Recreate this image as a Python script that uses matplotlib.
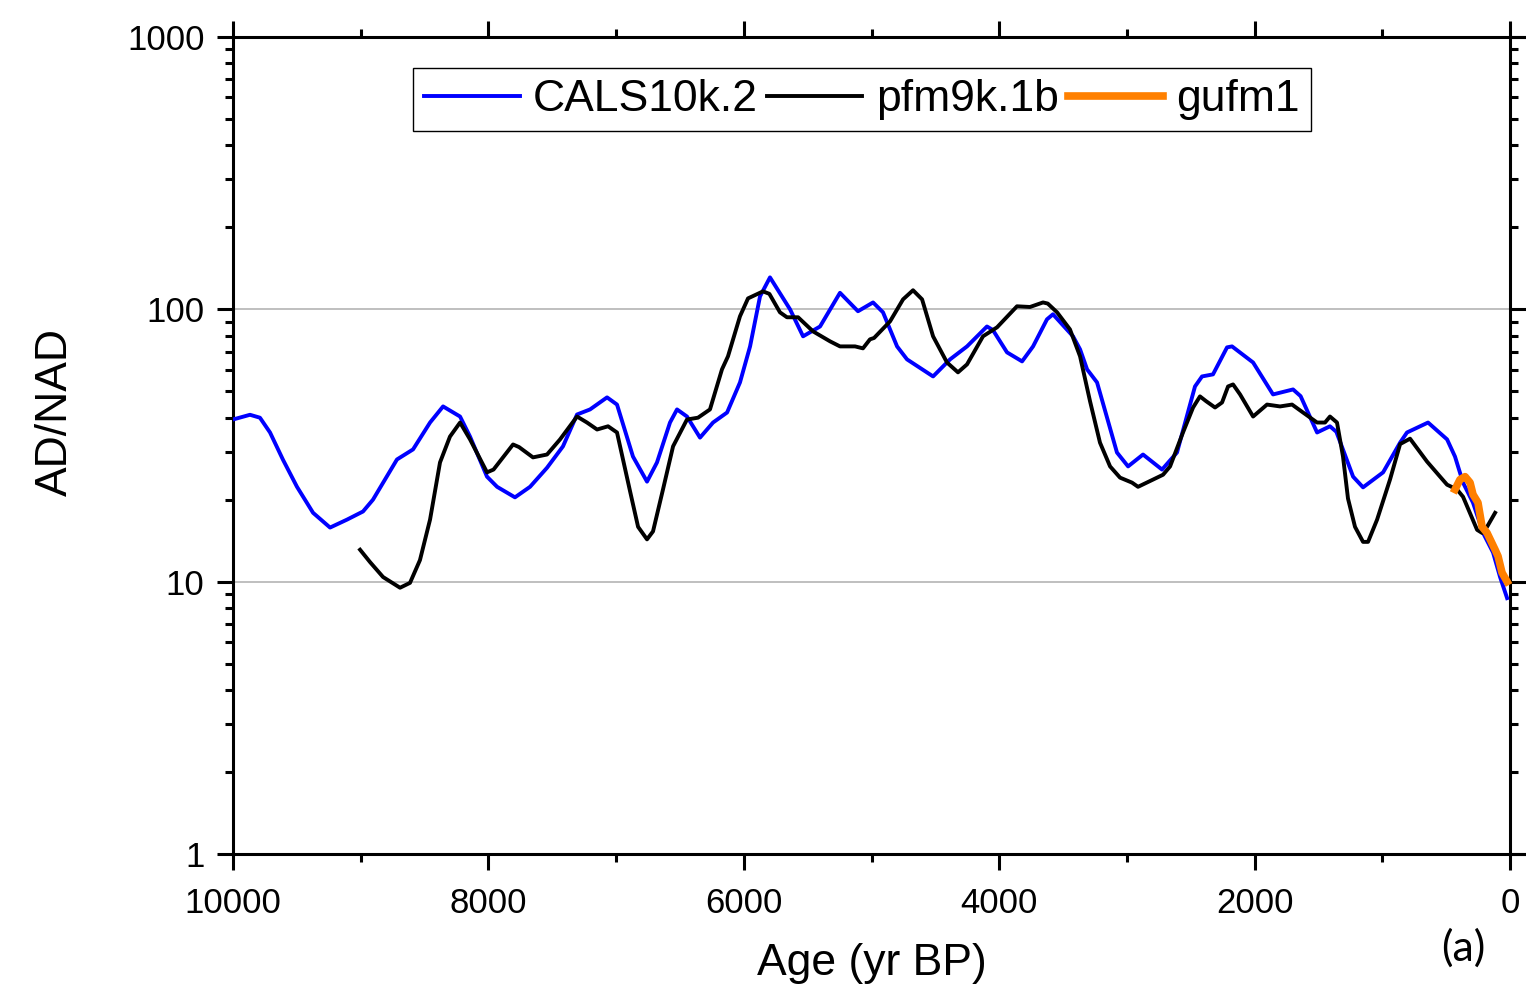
import matplotlib
matplotlib.use("Agg")
import matplotlib.pyplot as plt
from matplotlib.ticker import FixedLocator, LogLocator, NullFormatter, FixedFormatter

plt.rcParams['font.family'] = ['Liberation Sans', 'DejaVu Sans']

# CALS10k.2 (age in yr BP, AD/NAD)
cals_age = [10000, 9867, 9789, 9710, 9608, 9499, 9373, 9240, 9107, 8982, 8904, 8716,
            8590, 8457, 8355, 8222, 8144, 8011, 7932, 7792, 7674, 7541, 7416, 7306,
            7204, 7071, 6993, 6868, 6758, 6680, 6578, 6523, 6445, 6343, 6241, 6131,
            6030, 5951, 5873, 5795, 5638, 5536, 5403, 5247, 5106, 4988, 4910, 4800,
            4722, 4518, 4385, 4252, 4096, 4050, 3939, 3821, 3735, 3626, 3579, 3422,
            3367, 3312, 3234, 3078, 2991, 2874, 2725, 2608, 2467, 2412, 2326, 2216,
            2177, 2012, 1856, 1699, 1640, 1511, 1410, 1360, 1229, 1151, 994, 861,
            807, 642, 493, 431, 368, 290, 211, 133, 78, 23]
cals_val = [39.4, 41.0, 40.0, 35.3, 28.0, 22.3, 17.9, 15.8, 16.9, 18.1, 20.0, 28.1,
            30.6, 38.4, 44.0, 40.4, 34.1, 24.3, 22.3, 20.4, 22.3, 26.2, 31.4, 41.1,
            42.9, 47.5, 44.7, 28.8, 23.3, 27.4, 38.4, 42.9, 40.4, 33.8, 38.4, 41.8,
            53.9, 73.1, 111.6, 131.0, 100.0, 79.6, 86.5, 115.0, 98.4, 106.0, 97.5, 73.1,
            65.5, 56.7, 65.5, 73.1, 86.5, 84.0, 69.5, 64.4, 73.1, 91.9, 95.9, 79.6,
            71.3, 60.2, 53.9, 29.8, 26.5, 29.3, 25.8, 29.8, 52.1, 56.7, 57.7, 72.5,
            73.1, 63.8, 48.7, 50.8, 48.0, 35.3, 37.2, 35.5, 24.3, 22.2, 25.2, 32.4,
            35.3, 38.4, 33.3, 28.8, 23.1, 19.5, 15.1, 12.8, 10.4, 8.7]

# pfm9k.1b
pfm_age = [9005, 8927, 8825, 8692, 8614, 8536, 8457, 8379, 8301, 8222, 8144, 8011,
           7960, 7807, 7760, 7651, 7541, 7439, 7306, 7228, 7149, 7063, 6993, 6891,
           6828, 6758, 6711, 6633, 6554, 6445, 6359, 6265, 6171, 6124, 6030, 5967,
           5850, 5800, 5717, 5662, 5575, 5458, 5325, 5247, 5129, 5067, 5012, 4980,
           4855, 4753, 4675, 4604, 4518, 4409, 4323, 4252, 4127, 4017, 3861, 3759,
           3657, 3620, 3547, 3446, 3367, 3289, 3211, 3132, 3054, 2960, 2913, 2796,
           2717, 2662, 2561, 2482, 2428, 2380, 2310, 2255, 2208, 2169, 2114, 2012,
           1903, 1801, 1707, 1621, 1511, 1449, 1410, 1355, 1308, 1269, 1214, 1151,
           1112, 1041, 940, 861, 783, 650, 548, 493, 415, 368, 258, 219, 180, 117]
pfm_val = [13.1, 11.8, 10.4, 9.5, 9.9, 12.0, 16.9, 27.4, 34.1, 38.4, 33.3, 25.2,
           25.8, 31.9, 31.2, 28.6, 29.3, 33.3, 40.4, 38.4, 36.2, 37.2, 35.3, 21.5,
           15.9, 14.3, 15.3, 21.8, 31.4, 39.4, 40.0, 42.9, 60.2, 67.2, 94.3, 109.7,
           116.4, 114.0, 97.5, 93.5, 93.5, 83.0, 76.3, 73.1, 73.1, 71.9, 77.6, 78.5,
           90.3, 108.8, 117.5, 108.8, 79.6, 63.8, 58.7, 62.8, 79.6, 85.9, 102.6, 102.0,
           106.0, 105.0, 97.5, 84.4, 67.2, 46.0, 32.4, 26.5, 24.1, 23.1, 22.3, 23.7,
           24.7, 26.5, 35.3, 43.6, 47.9, 46.0, 43.6, 45.5, 52.1, 53.0, 48.7, 40.4,
           44.7, 44.0, 44.7, 41.8, 38.4, 38.4, 40.4, 38.4, 28.8, 20.2, 15.9, 14.0,
           14.0, 16.9, 23.7, 32.0, 33.5, 27.6, 24.3, 22.7, 21.8, 20.5, 15.5, 15.1, 15.9, 17.9]

# gufm1
gufm_age = [431, 392, 352, 313, 290, 251, 219, 180, 117, 94, 63, 23]
gufm_val = [21.8, 23.7, 24.3, 23.1, 20.9, 19.5, 15.9, 15.1, 13.1, 12.4, 10.8, 10.0]

series_labels = ['CALS10k.2', 'pfm9k.1b', 'gufm1']
x_ticks = [10000, 8000, 6000, 4000, 2000, 0]
y_ticks = [1, 10, 100, 1000]
y_tick_labels = ['1', '10', '100', '1000']

W, H = 1526, 994
fig = plt.figure(figsize=(W / 100, H / 100), dpi=100)
ax = fig.add_axes([233 / W, 1 - 854 / H, (W - 233) / W, (854 - 37) / H])

ax.plot(cals_age, cals_val, color='#0000ff', lw=2.8, label=series_labels[0], zorder=3,
        solid_joinstyle='round')
ax.plot(pfm_age, pfm_val, color='black', lw=2.8, label=series_labels[1], zorder=3,
        solid_joinstyle='round')
ax.plot(gufm_age, gufm_val, color='#ff8000', lw=5.5, label=series_labels[2], zorder=4,
        solid_joinstyle='round')

ax.set_yscale('log')
ax.set_ylim(1, 1000)
ax.set_xlim(10000, -125)

ax.xaxis.set_major_locator(FixedLocator(x_ticks))
ax.xaxis.set_minor_locator(FixedLocator([9000, 7000, 5000, 3000, 1000]))
ax.yaxis.set_major_locator(FixedLocator(y_ticks))
ax.yaxis.set_major_formatter(FixedFormatter(y_tick_labels))
ax.yaxis.set_minor_locator(LogLocator(base=10, subs=range(2, 10)))
ax.yaxis.set_minor_formatter(NullFormatter())

for s in ax.spines.values():
    s.set_linewidth(2.2)
ax.spines['right'].set_position(('data', 0))

ax.tick_params(which='both', direction='out', top=True, right=True, width=2.2,
               labelsize=25, colors='black')
ax.tick_params(which='major', length=11.5)
ax.tick_params(which='minor', length=5.5)
ax.tick_params(axis='y', pad=9)
ax.tick_params(axis='x', pad=12)

ax.yaxis.grid(True, which='major', color='#b4b4b4', lw=1.2, zorder=0)
ax.set_axisbelow(True)

leg = ax.legend(loc='upper left', bbox_to_anchor=(413 / W, 1 - 68 / H),
                bbox_transform=fig.transFigure, ncol=3, fontsize=32,
                frameon=True, fancybox=False, framealpha=1, edgecolor='black',
                handlelength=2.15, handletextpad=0.3, columnspacing=0.2,
                borderpad=0.25, borderaxespad=0)
leg.get_frame().set_linewidth(1.0)

fig.text(871.5 / W, 1 - 964 / H, 'Age (yr BP)', fontsize=32, ha='center', va='center')
fig.text(55 / W, 1 - 412 / H, 'AD/NAD', fontsize=32, ha='center', va='center',
         rotation=90)
fig.text(1463 / W, 1 - 948 / H, '(a)', fontsize=31, ha='center', va='center',
         family=['Lato', 'DejaVu Sans'])

fig.savefig('out.png', dpi=100)
